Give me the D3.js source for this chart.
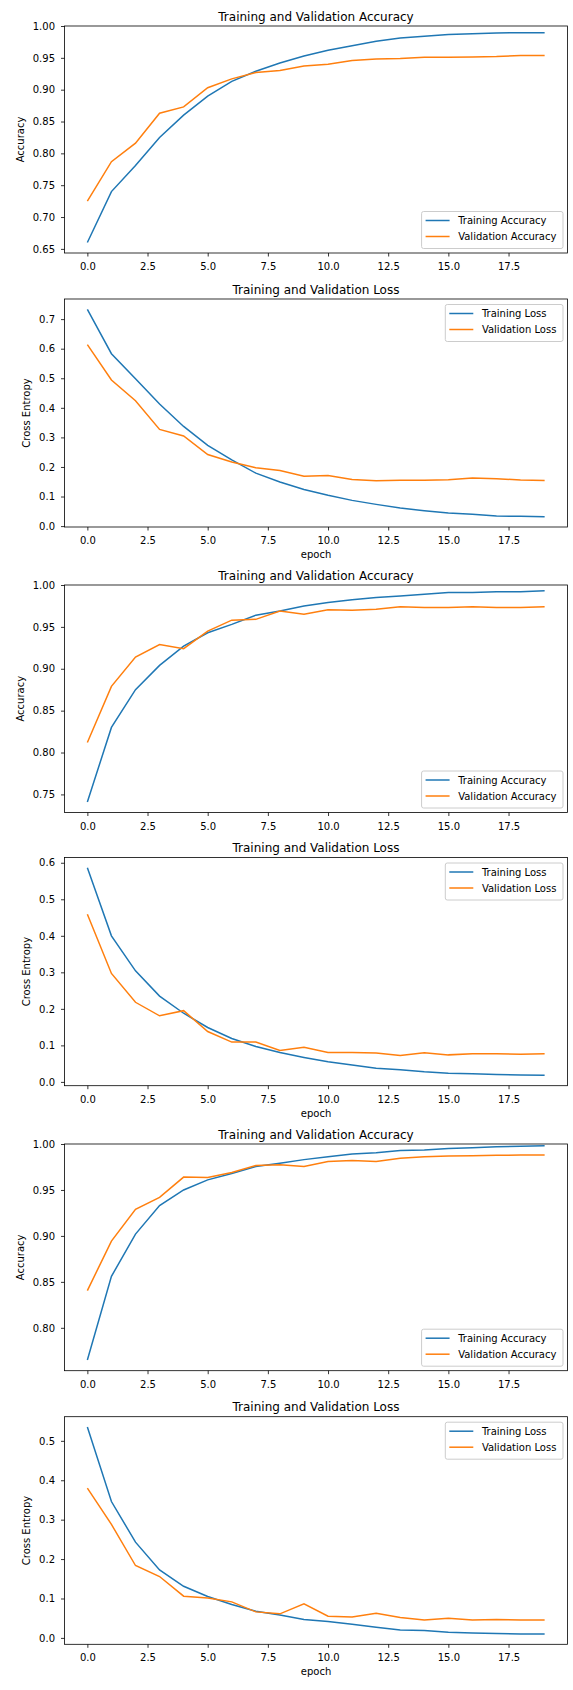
<!DOCTYPE html>
<html>
<head>
<meta charset="utf-8">
<script src="https://cdn.jsdelivr.net/npm/d3@7"></script>
<style>
  body { margin: 0; background: #fff; }
  text { font-family: "DejaVu Sans", sans-serif; fill: #000; }
</style>
</head>
<body>
<svg id="mainsvg" width="573" height="1690"></svg>
<script>
// epoch 和 x 轴刻度
const epochs = d3.range(0, 20);
const xTicks = [0, 2.5, 5, 7.5, 10, 12.5, 15, 17.5];

// 第一次训练
const trainAcc1 = [0.660, 0.740, 0.781, 0.825, 0.860, 0.890, 0.913, 0.929, 0.942, 0.953,
  0.962, 0.969, 0.976, 0.981, 0.984, 0.9865, 0.988, 0.989, 0.9895, 0.9895];
const valAcc1 = [0.725, 0.787, 0.816, 0.863, 0.873, 0.903, 0.917, 0.927, 0.930, 0.937,
  0.940, 0.946, 0.948, 0.949, 0.951, 0.951, 0.9515, 0.952, 0.9535, 0.9535];
const trainLoss1 = [0.733, 0.583, 0.498, 0.413, 0.337, 0.273, 0.224, 0.179, 0.149, 0.124,
  0.104, 0.087, 0.0735, 0.061, 0.052, 0.044, 0.040, 0.034, 0.033, 0.032];
const valLoss1 = [0.614, 0.494, 0.424, 0.327, 0.305, 0.242, 0.217, 0.197, 0.188, 0.169,
  0.171, 0.158, 0.153, 0.155, 0.155, 0.157, 0.163, 0.160, 0.156, 0.154];

// 第二次训练
const trainAcc2 = [0.741, 0.830, 0.875, 0.904, 0.927, 0.943, 0.953, 0.964, 0.969, 0.975,
  0.979, 0.9825, 0.985, 0.987, 0.989, 0.991, 0.991, 0.992, 0.992, 0.993];
const valAcc2 = [0.812, 0.879, 0.914, 0.929, 0.924, 0.945, 0.958, 0.959, 0.969, 0.965,
  0.9705, 0.970, 0.971, 0.974, 0.973, 0.973, 0.974, 0.973, 0.973, 0.974];
const trainLoss2 = [0.586, 0.400, 0.304, 0.235, 0.188, 0.149, 0.119, 0.097, 0.0805, 0.067,
  0.055, 0.046, 0.0375, 0.033, 0.0275, 0.024, 0.022, 0.020, 0.019, 0.018];
const valLoss2 = [0.459, 0.297, 0.218, 0.181, 0.195, 0.138, 0.109, 0.109, 0.086, 0.095,
  0.0805, 0.0805, 0.079, 0.072, 0.0795, 0.074, 0.077, 0.077, 0.076, 0.077];

// 第三次训练
const trainAcc3 = [0.765, 0.856, 0.902, 0.933, 0.950, 0.961, 0.968, 0.9755, 0.979, 0.983,
  0.986, 0.989, 0.9905, 0.993, 0.9935, 0.995, 0.996, 0.997, 0.9975, 0.998];
const valAcc3 = [0.8405, 0.8944, 0.929, 0.942, 0.964, 0.9635, 0.969, 0.9765, 0.9775, 0.9755,
  0.981, 0.982, 0.981, 0.9845, 0.986, 0.987, 0.9873, 0.9877, 0.988, 0.988];
const trainLoss3 = [0.535, 0.346, 0.243, 0.1726, 0.131, 0.105, 0.0846, 0.0677, 0.058, 0.0465,
  0.0415, 0.0347, 0.027, 0.020, 0.0186, 0.0144, 0.0127, 0.011, 0.010, 0.010];
const valLoss3 = [0.380, 0.288, 0.1836, 0.1557, 0.1058, 0.1015, 0.0914, 0.066, 0.061, 0.0863,
  0.055, 0.0533, 0.0626, 0.0516, 0.0457, 0.050, 0.0457, 0.0465, 0.0457, 0.0457];

// 颜色
const blue = "#1f77b4";
const orange = "#ff7f0e";

const svg = d3.select('#mainsvg');
const myWidth = +svg.attr('width');

svg.append("rect")
  .attr("width", myWidth)
  .attr("height", svg.attr("height"))
  .attr("fill", "#fff");

const left = 64.5;
const right = 567.5;

// 六个子图
const panels = [
  { top: 26, bottom: 253, acc: true, train: trainAcc1, val: valAcc1, epoch: false },
  { top: 299, bottom: 527, acc: false, train: trainLoss1, val: valLoss1, epoch: true },
  { top: 585, bottom: 812.5, acc: true, train: trainAcc2, val: valAcc2, epoch: false },
  { top: 857.5, bottom: 1085.7, acc: false, train: trainLoss2, val: valLoss2, epoch: true },
  { top: 1144, bottom: 1370.7, acc: true, train: trainAcc3, val: valAcc3, epoch: false },
  { top: 1416.7, bottom: 1644.3, acc: false, train: trainLoss3, val: valLoss3, epoch: true }
];

// x 比例尺 (matplotlib 默认 5% 边距)
const x = d3.scaleLinear()
  .domain([-0.95, 19.95])
  .range([left, right]);

panels.forEach(p => {
  const g = svg.append("g");

  const all = p.train.concat(p.val);
  const lo = d3.min(all), hi = d3.max(all);
  const pad = (hi - lo) * 0.05;

  const y = d3.scaleLinear()
    .domain([lo - pad, p.acc ? 1 : hi + pad])
    .range([p.bottom, p.top]);

  // 坐标轴
  const xAxis = g.append("g")
    .attr("transform", `translate(0,${p.bottom})`)
    .call(d3.axisBottom(x).tickValues(xTicks).tickFormat(d3.format(".1f"))
      .tickSize(3.5).tickPadding(6.5));

  const yAxis = g.append("g")
    .attr("transform", `translate(${left},0)`)
    .call(d3.axisLeft(y).ticks(6).tickFormat(d3.format(p.acc ? ".2f" : ".1f"))
      .tickSize(3.5).tickPadding(6));

  [xAxis, yAxis].forEach(a => {
    a.select(".domain").remove();
    a.selectAll("line").attr("stroke", "#000").attr("stroke-width", 0.8);
    a.selectAll("text").attr("font-size", 10).attr("fill", "#000")
      .attr("font-family", "DejaVu Sans");
  });

  // 折线
  const line = d3.line()
    .x((d, i) => x(epochs[i]))
    .y(d => y(d));

  g.append("path")
    .datum(p.train)
    .attr("d", line)
    .attr("fill", "none")
    .attr("stroke", blue)
    .attr("stroke-width", 1.5);

  g.append("path")
    .datum(p.val)
    .attr("d", line)
    .attr("fill", "none")
    .attr("stroke", orange)
    .attr("stroke-width", 1.5);

  // 边框
  g.append("rect")
    .attr("x", left)
    .attr("y", p.top)
    .attr("width", right - left)
    .attr("height", p.bottom - p.top)
    .attr("fill", "none")
    .attr("stroke", "#000")
    .attr("stroke-width", 0.8);

  // 标题
  g.append("text")
    .attr("x", (left + right) / 2)
    .attr("y", p.top - 5.5)
    .attr("text-anchor", "middle")
    .attr("font-size", 12)
    .text(p.acc ? "Training and Validation Accuracy" : "Training and Validation Loss");

  // y 轴标题
  const bx = yAxis.node().getBBox().x + left;
  g.append("text")
    .attr("transform", `translate(${bx - 9},${(p.top + p.bottom) / 2}) rotate(-90)`)
    .attr("text-anchor", "middle")
    .attr("font-size", 10)
    .text(p.acc ? "Accuracy" : "Cross Entropy");

  if (p.epoch) {
    g.append("text")
      .attr("x", (left + right) / 2)
      .attr("y", p.bottom + 31)
      .attr("text-anchor", "middle")
      .attr("font-size", 10)
      .text("epoch");
  }

  // 图例
  const names = p.acc ? ["Training Accuracy", "Validation Accuracy"] : ["Training Loss", "Validation Loss"];
  const lg = g.append("g");
  const box = lg.append("rect");
  const texts = names.map((n, i) => lg.append("text")
    .attr("font-size", 10)
    .attr("y", 9 + i * 16)
    .attr("dy", "0.35em")
    .text(n));
  const tw = d3.max(texts, t => t.node().getComputedTextLength());
  const bw = 36.6 + tw + 6.6;
  const bh = 37;
  const bx0 = right - 4.5 - bw;
  const by0 = p.acc ? p.bottom - 4.5 - bh : p.top + 5.5;
  lg.attr("transform", `translate(${bx0},${by0})`);
  box.attr("width", bw).attr("height", bh)
    .attr("rx", 2)
    .attr("fill", "#fff").attr("fill-opacity", 0.8)
    .attr("stroke", "#ccc").attr("stroke-width", 1);
  texts.forEach(t => t.attr("x", 36.6));
  [blue, orange].forEach((c, i) => {
    lg.append("line")
      .attr("x1", 4).attr("x2", 28)
      .attr("y1", 9 + i * 16).attr("y2", 9 + i * 16)
      .attr("stroke", c)
      .attr("stroke-width", 1.5);
  });
});
</script>
</body>
</html>
